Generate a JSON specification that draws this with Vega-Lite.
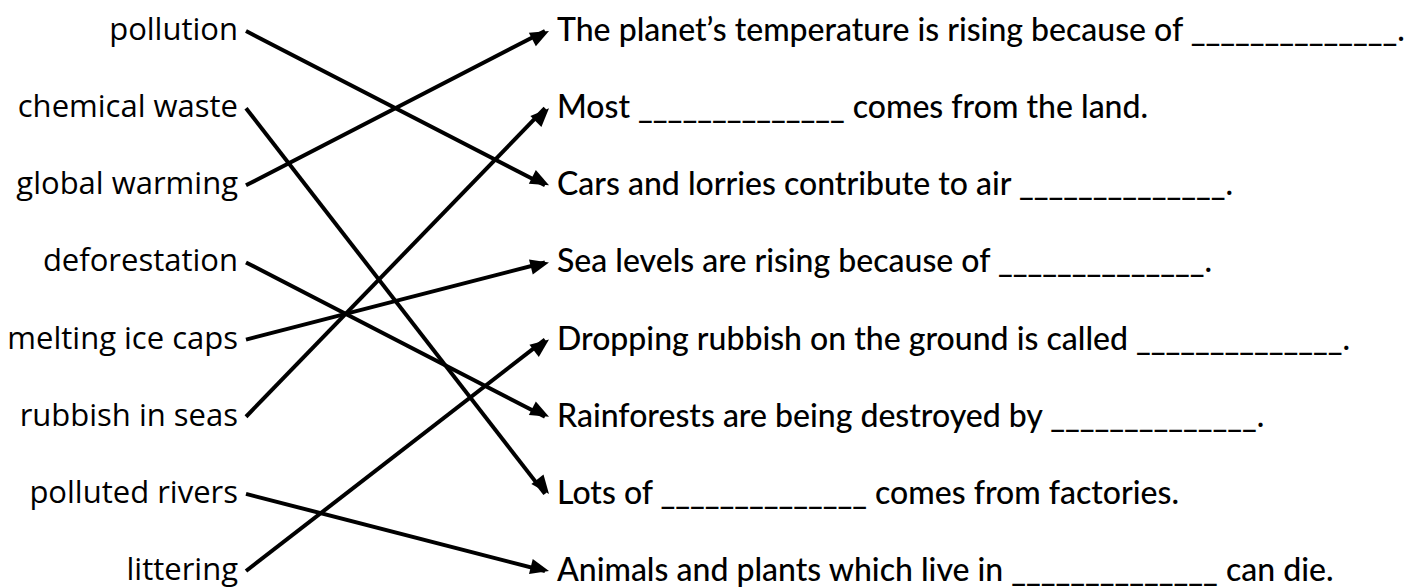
{
  "$schema": "https://vega.github.io/schema/vega-lite/v6.json",
  "width": 1416,
  "height": 588,
  "autosize": {"type": "fit", "contains": "padding"},
  "padding": 0,
  "background": "white",
  "config": {"view": {"stroke": null}},
  "datasets": {
    "terms": [
      {"term": "pollution", "row": 0},
      {"term": "chemical waste", "row": 1},
      {"term": "global warming", "row": 2},
      {"term": "deforestation", "row": 3},
      {"term": "melting ice caps", "row": 4},
      {"term": "rubbish in seas", "row": 5},
      {"term": "polluted rivers", "row": 6},
      {"term": "littering", "row": 7}
    ],
    "sentences": [
      {"sentence": "The planet’s temperature is rising because of ______________.", "row": 0},
      {"sentence": "Most ______________ comes from the land.", "row": 1},
      {"sentence": "Cars and lorries contribute to air ______________.", "row": 2},
      {"sentence": "Sea levels are rising because of ______________.", "row": 3},
      {"sentence": "Dropping rubbish on the ground is called ______________.", "row": 4},
      {"sentence": "Rainforests are being destroyed by ______________.", "row": 5},
      {"sentence": "Lots of ______________ comes from factories.", "row": 6},
      {"sentence": "Animals and plants which live in ______________ can die.", "row": 7}
    ],
    "links": [
      {"term": "pollution", "from_row": 0, "to_row": 2},
      {"term": "chemical waste", "from_row": 1, "to_row": 6},
      {"term": "global warming", "from_row": 2, "to_row": 0},
      {"term": "deforestation", "from_row": 3, "to_row": 5},
      {"term": "melting ice caps", "from_row": 4, "to_row": 3},
      {"term": "rubbish in seas", "from_row": 5, "to_row": 1},
      {"term": "polluted rivers", "from_row": 6, "to_row": 7},
      {"term": "littering", "from_row": 7, "to_row": 4}
    ]
  },
  "layer": [
    {
      "data": {"name": "terms"},
      "mark": {"type": "text", "align": "right", "baseline": "middle", "font": "Open Sans", "fontSize": 31, "fontWeight": 500, "color": "black"},
      "encoding": {
        "x": {"datum": 238, "type": "quantitative", "scale": {"domain": [0, 1416], "nice": false, "zero": false}, "axis": null},
        "y": {"field": "row", "type": "quantitative", "scale": {"domain": [-0.402, 7.22], "nice": false, "zero": false, "reverse": true}, "axis": null},
        "text": {"field": "term"}
      }
    },
    {
      "data": {"name": "sentences"},
      "mark": {"type": "text", "align": "left", "baseline": "middle", "font": "Lato", "fontSize": 32, "fontWeight": 500, "color": "black"},
      "encoding": {
        "x": {"datum": 557, "type": "quantitative"},
        "y": {"field": "row", "type": "quantitative"},
        "text": {"field": "sentence"}
      }
    },
    {
      "data": {"name": "links"},
      "mark": {"type": "rule", "strokeWidth": 4, "color": "black", "strokeCap": "butt"},
      "encoding": {
        "x": {"datum": 246, "type": "quantitative"},
        "x2": {"datum": 545},
        "y": {"field": "from_row", "type": "quantitative"},
        "y2": {"field": "to_row"}
      }
    },
    {
      "data": {"name": "links"},
      "transform": [
        {"calculate": "atan2(303, -(datum.to_row - datum.from_row) * 77.14) * 180 / PI", "as": "angle"}
      ],
      "mark": {"type": "point", "shape": "M0,0L-0.7,1.7L0.7,1.7Z", "filled": true, "color": "black", "opacity": 1, "size": 484, "strokeWidth": 0},
      "encoding": {
        "x": {"datum": 549, "type": "quantitative"},
        "y": {"field": "to_row", "type": "quantitative"},
        "angle": {"field": "angle", "type": "quantitative", "scale": null}
      }
    }
  ]
}
